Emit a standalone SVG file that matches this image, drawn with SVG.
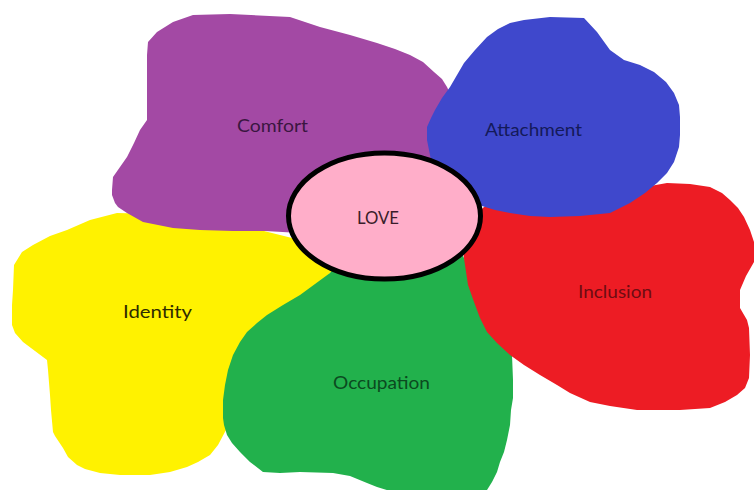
<svg xmlns="http://www.w3.org/2000/svg" width="754" height="490" viewBox="0 0 754 490">
<style>
.lbl{font-family:Lato,"Open Sans","Liberation Sans",sans-serif;font-size:17px;}
.ring{fill:#FFAEC9;stroke:#000;stroke-width:5;}
</style>
<rect width="754" height="490" fill="#fff"/>
<g id="identity">
<path fill="#FFF200" d="M13,290 L14,265 L22,252 L33,245 L50,236 L67,230 L90,220 L117,213 L200,215 L300,240 L345,262 L330,273 L290,320 L226,430 L218,445 L210,455 L198,462 L187,467 L170,472 L150,475 L120,475 L100,473 L85,469 L77,465 L68,457 L63,448 L55,436 L53,432 L51,410 L50,395 L48,370 L47,360 L35,351 L23,342 L15,333 L12,325 L12,305 Z"/>
<text class="lbl" x="123" y="318" textLength="69" lengthAdjust="spacingAndGlyphs" fill="#2e2c00">Identity</text>
</g>
<g id="comfort">
<path fill="#A349A4" d="M148,42 L157,32 L173,22 L193,15 L230,14 L290,17 L320,27 L350,35 L377,43 L395,49 L410,55 L423,62 L434,72 L442,79 L447,87 L458,110 L445,180 L340,200 L300,233 L265,231 L233,231 L200,230 L173,228 L158,225 L143,222 L127,213 L118,207 L115,203 L112,195 L112,190 L113,177 L120,167 L127,157 L134,143 L140,130 L147,120 L147,80 L147,55 Z"/>
<text class="lbl" x="237" y="132" textLength="71" lengthAdjust="spacingAndGlyphs" fill="#3a1640">Comfort</text>
</g>
<g id="occupation">
<path fill="#22B14C" d="M330,273 L345,255 L460,250 L470,270 L490,320 L512,355 L513,380 L513,398 L511,410 L510,425 L507,440 L504,452 L500,462 L497,472 L492,482 L487,490 L470,491 L390,491 L377,487 L367,483 L350,476 L333,473 L300,472 L280,473 L263,472 L250,462 L240,452 L232,443 L227,435 L224,425 L223,418 L223,400 L225,385 L228,370 L233,355 L240,342 L247,332 L257,323 L267,315 L283,305 L300,295 L315,284 Z"/>
<text class="lbl" x="333" y="389" textLength="97" lengthAdjust="spacingAndGlyphs" fill="#0b4a1f">Occupation</text>
</g>
<g id="inclusion">
<path fill="#ED1C24" d="M500,195 L600,195 L667,183 L690,184 L710,187 L722,193 L730,200 L738,208 L744,217 L750,230 L754,242 L754,262 L746,276 L740,290 L740,308 L747,320 L749,328 L750,355 L749,378 L745,388 L737,395 L725,402 L710,408 L680,410 L660,410 L637,410 L610,406 L590,402 L570,393 L557,385 L540,375 L524,365 L510,355 L497,343 L487,332 L480,318 L474,302 L468,285 L465,265 L462,245 L470,220 L484,207 Z"/>
<text class="lbl" x="578" y="298" textLength="74" lengthAdjust="spacingAndGlyphs" fill="#6e0c12">Inclusion</text>
</g>
<g id="attachment">
<path fill="#3F48CC" d="M524,20 L550,17 L584,18 L597,32 L610,50 L624,60 L640,65 L654,72 L666,82 L674,93 L679,105 L680,117 L680,135 L679,147 L674,162 L667,173 L657,183 L645,193 L630,203 L610,213 L580,216 L550,217 L530,216 L510,213 L495,210 L482,206 L460,195 L432,165 L427,140 L427,127 L431,118 L435,110 L442,98 L450,87 L457,75 L464,63 L475,50 L487,37 L498,29 L510,23 Z"/>
<text class="lbl" x="485" y="136" textLength="97" lengthAdjust="spacingAndGlyphs" fill="#141a5a">Attachment</text>
</g>
<g id="love">
<ellipse class="ring" cx="384.5" cy="216" rx="96" ry="63"/>
<text class="lbl" x="357" y="224" textLength="42" lengthAdjust="spacingAndGlyphs" fill="#3a1d2a">LOVE</text>
</g>
</svg>
